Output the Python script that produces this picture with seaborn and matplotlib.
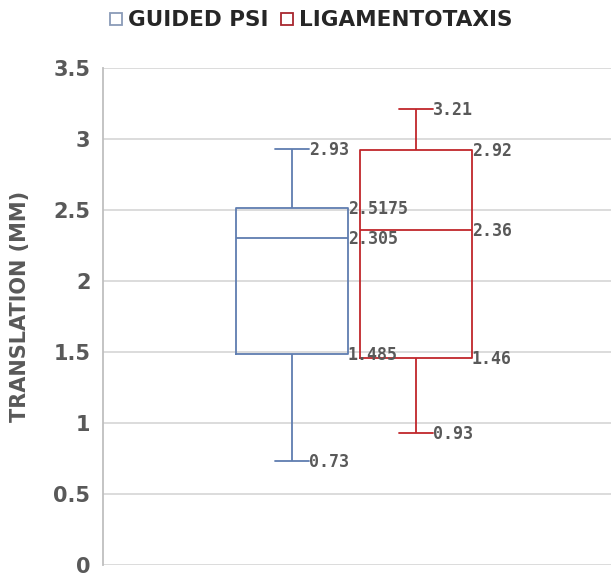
import matplotlib
matplotlib.use("Agg")
import matplotlib.pyplot as plt
from matplotlib.lines import Line2D
import seaborn as sns
import pandas as pd
import numpy as np

# ---- data (five-number summaries) ----
groups = ["GUIDED PSI", "LIGAMENTOTAXIS"]
guided_psi = [0.73, 1.485, 2.305, 2.5175, 2.93]       # min, Q1, median, Q3, max
ligamentotaxis = [0.93, 1.46, 2.36, 2.92, 3.21]
label_text = {
    "GUIDED PSI": ["0.73", "1.485", "2.305", "2.5175", "2.93"],
    "LIGAMENTOTAXIS": ["0.93", "1.46", "2.36", "2.92", "3.21"],
}
y_ticks = [0, 0.5, 1, 1.5, 2, 2.5, 3, 3.5]
y_tick_labels = ["0", "0.5", "1", "1.5", "2", "2.5", "3", "3.5"]
colors = {"GUIDED PSI": "#5F7DB0", "LIGAMENTOTAXIS": "#C0262B"}
legend_edge = {"GUIDED PSI": "#8A9BB8", "LIGAMENTOTAXIS": "#A8262E"}

values = {"GUIDED PSI": guided_psi, "LIGAMENTOTAXIS": ligamentotaxis}
df = pd.DataFrame({
    "cat": [""] * 10,
    "group": [g for g in groups for _ in range(5)],
    "value": guided_psi + ligamentotaxis,
})

sns.set_style("white")
plt.rcParams["font.family"] = ["DejaVu Sans"]

fig = plt.figure(figsize=(6.11, 5.77), dpi=100)
ax = fig.add_axes([103 / 611, 1 - 565 / 577, 508 / 611, (565 - 68) / 577])

W = 0.488
GAP = 0.1
box_w = W / 2 * (1 - GAP)
cap_w = 0.3 * box_w

sns.boxplot(data=df, x="cat", y="value", hue="group", hue_order=groups,
            palette=colors, fill=False, width=W, gap=GAP, whis=(0, 100),
            linewidth=1.3, showfliers=False, capwidths=cap_w,
            legend=False, ax=ax)

ax.set_xlim(-0.494, 0.506)
ax.set_ylim(0, 3.5)
ax.set_yticks(y_ticks)
ax.set_yticklabels(y_tick_labels)
ax.set_xticks([])
ax.set_xlabel("")
ax.grid(axis="y", color="#D9D9D9", linewidth=1.3)
ax.set_axisbelow(True)
for s in ["top", "right", "bottom"]:
    ax.spines[s].set_visible(False)
ax.spines["left"].set_color("#BFBFBF")
ax.spines["left"].set_linewidth(1.3)
ax.tick_params(axis="y", length=0, pad=9, labelsize=15, labelcolor="#595959")
for t in ax.get_yticklabels():
    t.set_fontweight("bold")

ax.set_ylabel("TRANSLATION (MM)", fontsize=15, fontweight="bold", color="#595959")
ax.yaxis.set_label_coords(-0.144, 0.52)

# ---- data labels ----
for i, g in enumerate(groups):
    center = (i - 0.5) * W / 2
    v = values[g]
    labs = label_text[g]
    for k in range(5):
        if k in (0, 4):
            x = center + cap_w / 2
        else:
            x = center + box_w / 2
        ax.text(x, v[k] - 0.008, labs[k], ha="left", va="center", fontsize=12,
                fontweight="bold", color="#595959",
                family="DejaVu Sans Mono", clip_on=False)

# ---- legend ----
handles = [Line2D([], [], linestyle="none", marker="s", markersize=8,
                  markerfacecolor="white", markeredgecolor=legend_edge[g],
                  markeredgewidth=1.3) for g in groups]
leg = fig.legend(handles, groups, loc="center", bbox_to_anchor=(0.509, 0.965),
                 ncol=2, frameon=False, handlelength=0.6, handletextpad=0.25,
                 columnspacing=0.6, prop={"size": 15.5, "weight": "bold"})
for t in leg.get_texts():
    t.set_color("#262626")

fig.savefig("out.png", dpi=100)
